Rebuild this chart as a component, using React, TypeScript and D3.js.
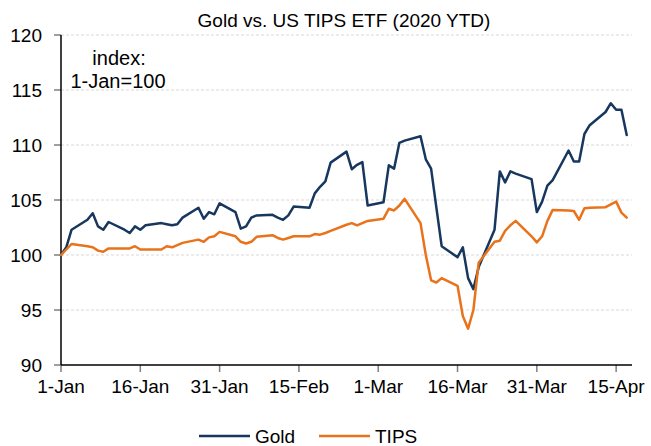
import React from "react";
import * as d3 from "d3";

const dates = [
  "2020-01-01","2020-01-02","2020-01-03","2020-01-06","2020-01-07","2020-01-08","2020-01-09","2020-01-10",
  "2020-01-13","2020-01-14","2020-01-15","2020-01-16","2020-01-17","2020-01-20","2020-01-21","2020-01-22",
  "2020-01-23","2020-01-24","2020-01-27","2020-01-28","2020-01-29","2020-01-30","2020-01-31","2020-02-03",
  "2020-02-04","2020-02-05","2020-02-06","2020-02-07","2020-02-10","2020-02-11","2020-02-12","2020-02-13",
  "2020-02-14","2020-02-17","2020-02-18","2020-02-19","2020-02-20","2020-02-21","2020-02-24","2020-02-25",
  "2020-02-26","2020-02-27","2020-02-28","2020-03-02","2020-03-03","2020-03-04","2020-03-05","2020-03-06",
  "2020-03-09","2020-03-10","2020-03-11","2020-03-12","2020-03-13","2020-03-16","2020-03-17","2020-03-18",
  "2020-03-19","2020-03-20","2020-03-23","2020-03-24","2020-03-25","2020-03-26","2020-03-27","2020-03-30",
  "2020-03-31","2020-04-01","2020-04-02","2020-04-03","2020-04-06","2020-04-07","2020-04-08","2020-04-09",
  "2020-04-10","2020-04-13","2020-04-14","2020-04-15","2020-04-16","2020-04-17",
];

const gold = [
  100, 100.7, 102.3, 103.2, 103.8, 102.6, 102.3, 103.0,
  102.3, 102.0, 102.6, 102.3, 102.7, 102.9, 102.8, 102.7,
  102.8, 103.4, 104.3, 103.3, 103.9, 103.7, 104.7, 103.9,
  102.4, 102.6, 103.4, 103.6, 103.65, 103.4, 103.2, 103.6,
  104.4, 104.3, 105.6, 106.2, 106.7, 108.4, 109.4, 107.8,
  108.2, 108.45, 104.5, 104.8, 108.15, 107.85, 110.2, 110.4,
  110.8, 108.7, 107.85, 104.3, 100.8, 99.8, 100.7, 97.9,
  96.9, 98.9, 102.3, 107.6, 106.6, 107.6, 107.4, 106.9,
  103.9, 104.85, 106.3, 106.8, 109.5, 108.5, 108.5, 111.0,
  111.8, 113.0, 113.8, 113.2, 113.2, 110.9,
];

const tips = [
  100, 100.5, 101.0, 100.8, 100.7, 100.4, 100.3, 100.6,
  100.6, 100.6, 100.8, 100.5, 100.5, 100.5, 100.8, 100.7,
  100.9, 101.1, 101.4, 101.2, 101.6, 101.7, 102.1, 101.7,
  101.2, 101.05, 101.2, 101.65, 101.8, 101.55, 101.4, 101.55,
  101.7, 101.7, 101.9, 101.85, 102.0, 102.2, 102.75, 102.9,
  102.7, 102.9, 103.1, 103.3, 104.2, 104.05, 104.5, 105.1,
  102.9, 100.0, 97.7, 97.5, 97.9, 97.2, 94.45, 93.3,
  95.0, 99.3, 101.2, 101.3, 102.2, 102.7, 103.1, 101.7,
  101.15, 101.7, 103.1, 104.1, 104.05, 104.0, 103.2, 104.25,
  104.3, 104.35, 104.6, 104.85, 103.85, 103.4,
];

const yTicks = [90, 95, 100, 105, 110, 115, 120];
const xTickLabels = ["1-Jan", "16-Jan", "31-Jan", "15-Feb", "1-Mar", "16-Mar", "31-Mar", "15-Apr"];
const xTickDates = ["2020-01-01", "2020-01-16", "2020-01-31", "2020-02-15", "2020-03-01", "2020-03-16", "2020-03-31", "2020-04-15"];
const xDomain = ["2020-01-01", "2020-04-18"];

const seriesNames = ["Gold", "TIPS"];
const colors = ["#17375E", "#E8731A"];

const FONT = "'Liberation Sans', Arial, Helvetica, sans-serif";

export default function App() {
  const W = 651, H = 446;
  const left = 61, right = 632, top = 35, bottom = 365;
  const parse = d3.utcParse("%Y-%m-%d");
  const x = d3.scaleUtc().domain(xDomain.map((d) => parse(d) as Date)).range([left, right]);
  const y = d3.scaleLinear().domain([90, 120]).range([bottom, top]);
  const pts = dates.map((d) => parse(d) as Date);
  const line = d3
    .line<number>()
    .x((_, i) => x(pts[i]))
    .y((v) => y(v));
  const series = [gold, tips];

  return (
    <svg width={W} height={H} style={{ position: "absolute", left: 0, top: 0, background: "#fff" }} fontFamily={FONT}>
      <text x={344} y={27} textAnchor="middle" fontSize={19} fill="#000">
        Gold vs. US TIPS ETF (2020 YTD)
      </text>
      {yTicks.filter((t) => t > 90).map((t) => (
        <line key={"g" + t} x1={left} x2={right} y1={y(t)} y2={y(t)} stroke="#D9D9D9" strokeWidth={1} strokeDasharray="3,2" />
      ))}
      {yTicks.map((t) => (
        <g key={"y" + t}>
          <line x1={left - 7} x2={left} y1={y(t)} y2={y(t)} stroke="#7F7F7F" strokeWidth={1.5} />
          <text x={42} y={y(t)} dy="0.36em" textAnchor="end" fontSize={19} fill="#000">
            {t}
          </text>
        </g>
      ))}
      {xTickDates.map((d, i) => {
        const xx = x(parse(d) as Date);
        return (
          <g key={"x" + d}>
            <line x1={xx} x2={xx} y1={bottom} y2={bottom + 7} stroke="#7F7F7F" strokeWidth={1.5} />
            <text x={xx} y={393} textAnchor="middle" fontSize={19} fill="#000">
              {xTickLabels[i]}
            </text>
          </g>
        );
      })}
      <line x1={left} x2={left} y1={top} y2={bottom} stroke="#000" strokeWidth={1.5} />
      <line x1={left} x2={right} y1={bottom} y2={bottom} stroke="#000" strokeWidth={1.5} />
      <text x={119} y={65} textAnchor="middle" fontSize={20} fill="#000">index:</text>
      <text x={118} y={88} textAnchor="middle" fontSize={20} fill="#000">1-Jan=100</text>
      {series.map((s, i) => (
        <path key={seriesNames[i]} d={line(s) || ""} fill="none" stroke={colors[i]} strokeWidth={2.5} strokeLinejoin="round" strokeLinecap="round" />
      ))}
      {seriesNames.map((n, i) => {
        const lx = [199, 319][i];
        return (
          <g key={"l" + n}>
            <line x1={lx} x2={lx + 51} y1={436} y2={436} stroke={colors[i]} strokeWidth={2.5} />
            <text x={lx + 56} y={443} fontSize={19} fill="#000">{n}</text>
          </g>
        );
      })}
    </svg>
  );
}
